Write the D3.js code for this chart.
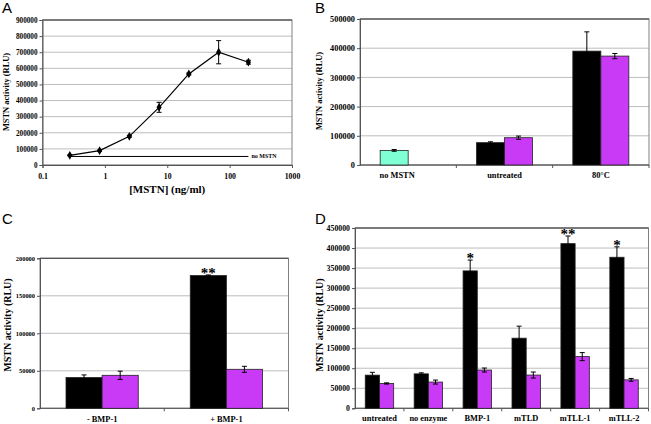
<!DOCTYPE html>
<html><head><meta charset="utf-8">
<script src="https://cdn.jsdelivr.net/npm/d3@7"></script>
<style>
body{margin:0;background:#fff;}
svg{display:block;}
text{font-family:"Liberation Serif","Times New Roman",serif;font-weight:bold;fill:#000;}
.letter{font-family:"Liberation Sans",Arial,sans-serif;font-weight:normal;}
</style></head>
<body>
<script>
// ---------- Panel A data ----------
const doseA = [0.274, 0.823, 2.47, 7.4, 22.2, 66.7, 200];
const actA = [60000, 89000, 178000, 358000, 565000, 700000, 638000];
const errA = [3000, 4000, 6000, 31000, 6000, 72000, 12000];
const noMstnA = 53000;
const yTicksA = [0,100000,200000,300000,400000,500000,600000,700000,800000,900000];
const xTicksA = [0.1, 1, 10, 100, 1000];

// ---------- Panel B data ----------
const catsB = ["no MSTN", "untreated", "80°C"];
const blackB = [50000, 76500, 390000];
const blackErrB = [3000, 3000, 66000];
const purpleB = [null, 93500, 373000];
const purpleErrB = [null, 5500, 9000];
const yTicksB = [0,100000,200000,300000,400000,500000];

// ---------- Panel C data ----------
const catsC = ["- BMP-1", "+ BMP-1"];
const blackC = [41000, 177000];
const blackErrC = [3500, 800];
const purpleC = [44000, 52000];
const purpleErrC = [5500, 4000];
const starsC = ["", "**"];
const yTicksC = [0,50000,100000,150000,200000];

// ---------- Panel D data ----------
const catsD = ["untreated", "no enzyme", "BMP-1", "mTLD", "mTLL-1", "mTLL-2"];
const blackD = [82800, 86000, 343000, 175000, 411000, 377000];
const blackErrD = [7000, 2500, 27000, 30000, 19000, 26000];
const purpleD = [62000, 65500, 95500, 83000, 129000, 71000];
const purpleErrD = [1500, 5000, 5000, 7500, 10000, 3500];
const starsD = ["", "", "*", "", "**", "*"];
const yTicksD = [0,50000,100000,150000,200000,250000,300000,350000,400000,450000];

const BLACK = "#000000", PURPLE = "#c93af6", TEAL = "#7fffd4";
const GRID = "#bdbdbd", AXIS = "#555555", BORDER = "#808080";
const SERIF = '"Liberation Serif","Times New Roman",serif';

const svg = d3.select("body").append("svg").attr("width", 651).attr("height", 424);

function frame(g, x0, x1, y0, y1, y, ticks, tickFont) {
  g.selectAll(null).data(ticks).enter().append("line")
    .attr("x1", x0).attr("x2", x1).attr("y1", d => y(d)).attr("y2", d => y(d))
    .attr("stroke", GRID).attr("stroke-width", 1);
  g.append("rect").attr("x", x0).attr("y", y0).attr("width", x1 - x0).attr("height", y1 - y0)
    .attr("fill", "none").attr("stroke", BORDER).attr("stroke-width", 1);
  g.append("line").attr("x1", x0).attr("x2", x1).attr("y1", y0).attr("y2", y0).attr("stroke", "#444");
  const ax = g.append("g").attr("transform", `translate(${x0},0)`)
    .call(d3.axisLeft(y).tickValues(ticks).tickSize(3).tickPadding(2).tickFormat(d3.format("d")));
  ax.attr("font-family", SERIF).attr("font-size", tickFont);
  ax.select(".domain").attr("stroke", AXIS);
  ax.selectAll(".tick line").attr("stroke", AXIS);
  ax.selectAll("text").attr("font-size", tickFont).attr("font-family", SERIF).attr("font-weight", "bold");
}

function yTitle(x, y, size) {
  svg.append("text").attr("transform", `translate(${x},${y}) rotate(-90)`)
    .attr("text-anchor", "middle").attr("dominant-baseline", "central")
    .attr("font-size", size).text("MSTN activity (RLU)");
}

function letter(t, x, y) {
  svg.append("text").attr("class", "letter").attr("x", x).attr("y", y).attr("font-size", 15).text(t);
}

function errBar(g, cx, yTop, yBot, cap, showLower) {
  g.append("line").attr("x1", cx).attr("x2", cx).attr("y1", yTop).attr("y2", yBot)
    .attr("stroke", "#000").attr("stroke-width", 1);
  g.append("line").attr("x1", cx - cap).attr("x2", cx + cap).attr("y1", yTop).attr("y2", yTop)
    .attr("stroke", "#000").attr("stroke-width", 1);
  if (showLower) g.append("line").attr("x1", cx - cap).attr("x2", cx + cap).attr("y1", yBot).attr("y2", yBot)
    .attr("stroke", "#000").attr("stroke-width", 1);
}

// ================= Panel A =================
(function(){
  const x0 = 42.5, x1 = 292, y0 = 20, y1 = 165;
  const x = d3.scaleLog().domain([0.1, 1000]).range([x0, x1]);
  const y = d3.scaleLinear().domain([0, 900000]).range([y1, y0]);
  const g = svg.append("g");
  frame(g, x0, x1, y0, y1, y, yTicksA, 7.2);
  const xa = g.append("g").attr("transform", `translate(0,${y1})`)
    .call(d3.axisBottom(x).tickValues(xTicksA).tickSize(3).tickPadding(5).tickFormat(d => String(d)));
  xa.attr("font-family", SERIF);
  xa.select(".domain").attr("stroke", AXIS);
  xa.selectAll(".tick line").attr("stroke", AXIS);
  xa.selectAll("text").attr("font-size", 7.8).attr("font-family", SERIF).attr("font-weight", "bold");
  g.append("line").attr("x1", x(doseA[0])).attr("x2", x(doseA[doseA.length-1]))
    .attr("y1", y(noMstnA)).attr("y2", y(noMstnA)).attr("stroke", "#000").attr("stroke-width", 1);
  g.append("text").attr("x", x(doseA[doseA.length-1]) + 3).attr("y", y(noMstnA))
    .attr("dominant-baseline", "central").attr("font-size", 6).text("no MSTN");
  const line = d3.line().x((d, i) => x(doseA[i])).y(d => y(d));
  g.append("path").datum(actA).attr("d", line).attr("fill", "none").attr("stroke", "#000").attr("stroke-width", 1.2);
  actA.forEach((v, i) => errBar(g, x(doseA[i]), y(v + errA[i]), y(v - errA[i]), 2.5, true));
  g.selectAll(null).data(actA).enter().append("path")
    .attr("transform", (d, i) => `translate(${x(doseA[i])},${y(d)})`)
    .attr("d", d3.symbol().type(d3.symbolDiamond).size(22)).attr("fill", "#000");
  svg.append("text").attr("x", (x0 + x1) / 2).attr("y", 193).attr("text-anchor", "middle")
    .attr("font-size", 11).text("[MSTN] (ng/ml)");
  yTitle(6, 92, 8.4);
  letter("A", 2, 13);
})();

// ================= Bar panel =================
function barPanel(o) {
  const y = d3.scaleLinear().domain([0, o.yMax]).range([o.y1, o.y0]);
  const xb = d3.scaleBand().domain(o.cats).range([o.x0, o.x1]).padding(0);
  const g = svg.append("g");
  frame(g, o.x0, o.x1, o.y0, o.y1, y, o.ticks, o.tickFont);
  g.append("line").attr("x1", o.x0).attr("x2", o.x1).attr("y1", o.y1).attr("y2", o.y1).attr("stroke", AXIS);
  o.cats.forEach((c, i) => {
    const bx = xb(c) + xb.bandwidth();
    g.append("line").attr("x1", bx).attr("x2", bx).attr("y1", o.y1).attr("y2", o.y1 + 3).attr("stroke", AXIS);
  });
  const bw = xb.bandwidth() / 1.72 / 2;
  o.cats.forEach((c, i) => {
    const cx = xb(c) + xb.bandwidth() / 2;
    const bX = cx - bw, pX = cx;
    if (o.black[i] != null) {
      g.append("rect").attr("x", bX).attr("y", y(o.black[i])).attr("width", bw).attr("height", o.y1 - y(o.black[i]))
        .attr("fill", o.blackColors ? o.blackColors[i] : BLACK).attr("stroke", "#222").attr("stroke-width", 0.8);
      const e = o.blackErr[i];
      errBar(g, bX + bw / 2, y(o.black[i] + e), y(o.black[i] - e), 2.5, true);
    }
    if (o.purple[i] != null) {
      g.append("rect").attr("x", pX).attr("y", y(o.purple[i])).attr("width", bw).attr("height", o.y1 - y(o.purple[i]))
        .attr("fill", PURPLE).attr("stroke", "#222").attr("stroke-width", 0.8);
      const e = o.purpleErr[i];
      errBar(g, pX + bw / 2, y(o.purple[i] + e), y(o.purple[i] - e), 2.5, true);
    }
    if (o.stars && o.stars[i]) {
      g.append("text").attr("x", bX + bw / 2).attr("y", y(o.black[i] + o.blackErr[i]) + 3)
        .attr("text-anchor", "middle").attr("font-size", 15).text(o.stars[i]);
    }
    g.append("text").attr("x", cx + (o.labelDx ? o.labelDx[i] : 0)).attr("y", o.labelY)
      .attr("text-anchor", "middle").attr("font-size", o.labelFont).text(c);
  });
}

barPanel({cats: catsB, black: blackB, blackErr: blackErrB, purple: purpleB, purpleErr: purpleErrB,
  blackColors: [TEAL, BLACK, BLACK], yMax: 500000, ticks: yTicksB,
  x0: 360, x1: 649, y0: 19, y1: 165, tickFont: 8.3, labelFont: 8.4, labelY: 178, labelDx: [-11, 0, 0]});
yTitle(319, 91, 8.4);
letter("B", 315, 13);

barPanel({cats: catsC, black: blackC, blackErr: blackErrC, purple: purpleC, purpleErr: purpleErrC,
  stars: starsC, yMax: 200000, ticks: yTicksC,
  x0: 40, x1: 288.5, y0: 258.3, y1: 408.3, tickFont: 6.4, labelFont: 8.4, labelY: 422});
yTitle(7, 325, 10);
letter("C", 2, 224);

barPanel({cats: catsD, black: blackD, blackErr: blackErrD, purple: purpleD, purpleErr: purpleErrD,
  stars: starsD, yMax: 450000, ticks: yTicksD,
  x0: 355, x1: 648.5, y0: 228, y1: 408.3, tickFont: 7.8, labelFont: 8.4, labelY: 421});
yTitle(319, 325, 10);
letter("D", 315, 224);
</script>
</body></html>
